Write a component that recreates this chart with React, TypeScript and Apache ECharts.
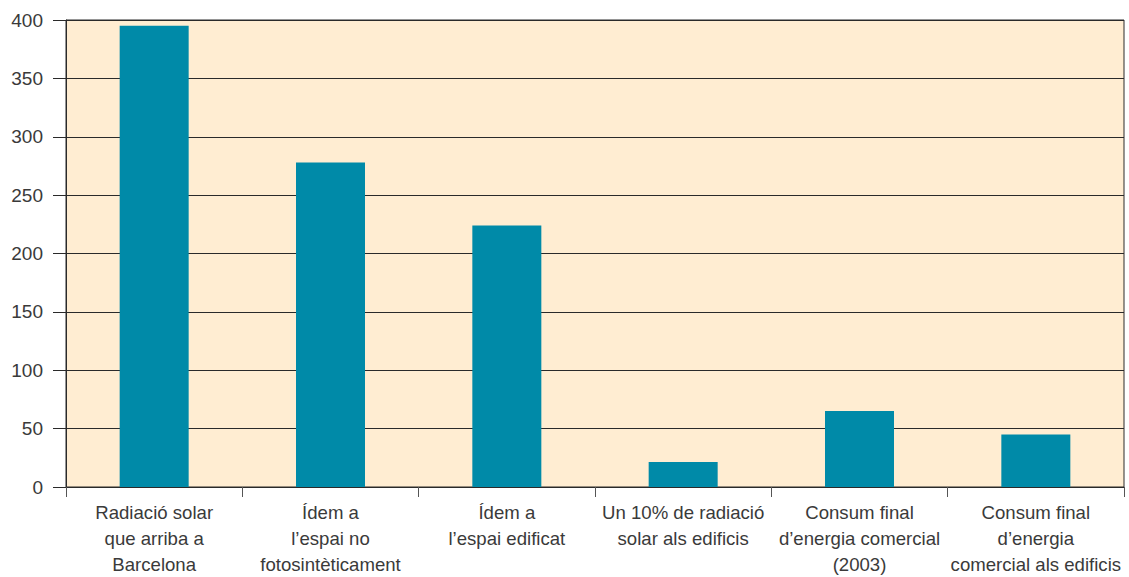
import React, { useEffect, useRef } from "react";
import * as echarts from "echarts";

const categories = [
  "Radiació solar\nque arriba a\nBarcelona",
  "Ídem a\nl’espai no\nfotosintèticament",
  "Ídem a\nl’espai edificat",
  "Un 10% de radiació\nsolar als edificis",
  "Consum final\nd’energia comercial\n(2003)",
  "Consum final\nd’energia\ncomercial als edificis",
];
const values = [395, 278, 224, 21.5, 65, 45];
const yTicks = { min: 0, max: 400, interval: 50 };

export default function App() {
  const ref = useRef<HTMLDivElement>(null);
  useEffect(() => {
    if (!ref.current) return;
    const chart = echarts.init(ref.current, undefined, { renderer: "svg" });
    chart.setOption({
      animation: false,
      grid: {
        left: 66,
        right: 5,
        top: 20,
        bottom: 89,
        show: true,
        backgroundColor: "#FFEDD2",
        borderColor: "#2a2a2a",
        borderWidth: 1,
      },
      xAxis: {
        type: "category",
        data: categories,
        axisLine: { show: true, lineStyle: { color: "#2a2a2a", width: 1 } },
        axisTick: { show: true, length: 10, alignWithLabel: false, lineStyle: { color: "#555" } },
        axisLabel: {
          interval: 0,
          margin: 12,
          fontFamily: "Liberation Sans, Arial, sans-serif",
          fontSize: 18.6,
          lineHeight: 26,
          color: "#3a3a3a",
        },
      },
      yAxis: {
        type: "value",
        min: yTicks.min,
        max: yTicks.max,
        interval: yTicks.interval,
        axisLine: { show: true, lineStyle: { color: "#2a2a2a", width: 1 } },
        axisTick: { show: true, length: 13, lineStyle: { color: "#2a2a2a" } },
        splitLine: { show: true, lineStyle: { color: "#2a2a2a", width: 1 } },
        axisLabel: {
          margin: 23,
          fontFamily: "Liberation Sans, Arial, sans-serif",
          fontSize: 19,
          color: "#3a3a3a",
        },
      },
      series: [
        {
          type: "bar",
          data: values,
          barWidth: 69,
          itemStyle: { color: "#008AA8" },
        },
      ],
    });
    return () => chart.dispose();
  }, []);
  return (
    <div
      ref={ref}
      style={{ position: "absolute", left: 0, top: 0, width: 1129, height: 577 }}
    />
  );
}
